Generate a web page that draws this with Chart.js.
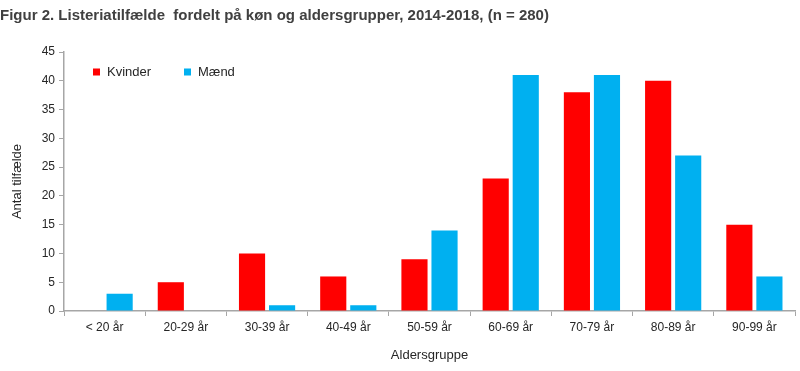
<!DOCTYPE html>
<html>
<head>
<meta charset="utf-8">
<script src="https://cdn.jsdelivr.net/npm/chart.js@4/dist/chart.umd.min.js"></script>
<style>
  html, body { margin: 0; padding: 0; background: #fff; }
  #wrap { width: 800px; height: 371px; }
</style>
</head>
<body>
<div id="wrap"><canvas id="myChart" width="800" height="371"></canvas></div>
<script>
// Data
const categories = ['< 20 år', '20-29 år', '30-39 år', '40-49 år', '50-59 år', '60-69 år', '70-79 år', '80-89 år', '90-99 år'];
const kvinder = [0, 5, 10, 6, 9, 23, 38, 40, 15];
const maend = [3, 0, 1, 1, 14, 41, 41, 27, 6];
const yTicks = [0, 5, 10, 15, 20, 25, 30, 35, 40, 45];

const fontFamily = "'Liberation Sans', 'DejaVu Sans', sans-serif";
const textColor = '#262626';
const axisColor = '#a6a6a6';

// legend drawn inside the plot area, top left
const innerLegend = {
    id: 'innerLegend',
    afterDraw(chart) {
        const ctx = chart.ctx;
        const area = chart.chartArea;
        const offsets = [29, 120];
        ctx.save();
        ctx.font = '13px ' + fontFamily;
        ctx.textBaseline = 'middle';
        chart.data.datasets.forEach(function (ds, i) {
            const x = area.left + offsets[i];
            const y = area.top + 20;
            ctx.fillStyle = ds.backgroundColor;
            ctx.fillRect(x, y - 3.5, 7, 7);
            ctx.fillStyle = textColor;
            ctx.fillText(ds.label, x + 14, y + 0.5);
        });
        ctx.restore();
    }
};

const ctx = document.getElementById('myChart').getContext('2d');
const myChart = new Chart(ctx, {
    type: 'bar',
    data: {
        labels: categories,
        datasets: [
            { label: 'Kvinder', data: kvinder, backgroundColor: '#ff0000' },
            { label: 'Mænd', data: maend, backgroundColor: '#00b0f0' }
        ]
    },
    options: {
        responsive: false,
        animation: false,
        devicePixelRatio: 1,
        layout: { padding: { left: 0, right: 5, top: 0, bottom: 0 } },
        datasets: {
            bar: { categoryPercentage: 0.74, barPercentage: 0.87 }
        },
        plugins: {
            legend: { display: false },
            tooltip: { enabled: false },
            title: {
                display: true,
                text: 'Figur 2. Listeriatilfælde  fordelt på køn og aldersgrupper, 2014-2018, (n = 280)',
                align: 'start',
                color: '#404040',
                font: { family: fontFamily, size: 15, weight: 'bold' },
                padding: { top: 7, bottom: 27 }
            }
        },
        scales: {
            x: {
                grid: { display: true, drawOnChartArea: false, drawTicks: true, tickLength: 5, color: axisColor, offset: true },
                border: { display: true, color: axisColor, width: 1.5 },
                ticks: { color: textColor, font: { family: fontFamily, size: 12 }, padding: 4, maxRotation: 0 },
                title: { display: true, text: 'Aldersgruppe', color: textColor, font: { family: fontFamily, size: 13 }, padding: { top: 0, bottom: 8 } },
                afterFit(scale) { scale.height = 60; }
            },
            y: {
                min: 0,
                max: 45,
                afterBuildTicks(scale) { scale.ticks = yTicks.map(v => ({ value: v })); },
                grid: { display: true, drawOnChartArea: false, drawTicks: true, tickLength: 5, color: axisColor },
                border: { display: true, color: axisColor, width: 1.5 },
                ticks: { color: textColor, font: { family: fontFamily, size: 12 }, padding: 4 },
                title: { display: true, text: 'Antal tilfælde', color: textColor, font: { family: fontFamily, size: 13 }, padding: { top: 10, bottom: 0 } },
                afterFit(scale) { scale.width = 64; }
            }
        }
    },
    plugins: [innerLegend]
});
</script>
</body>
</html>
